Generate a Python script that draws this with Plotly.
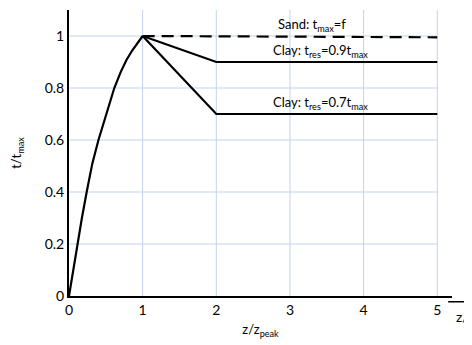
import plotly.graph_objects as go

# data
rise_x = [0, 0.05, 0.113, 0.175, 0.24, 0.317, 0.40, 0.51, 0.615, 0.70, 0.78, 0.86, 0.93, 1.0]
rise_y = [0, 0.09, 0.2, 0.3, 0.4, 0.51, 0.6, 0.705, 0.8, 0.86, 0.908, 0.945, 0.972, 1.0]
sand_x = [1, 5]
sand_y = [1.0, 0.995]
clay9_x = [1, 2, 5]
clay9_y = [1.0, 0.9, 0.9]
clay7_x = [1, 2, 5]
clay7_y = [1.0, 0.7, 0.7]
x_ticks = [0, 1, 2, 3, 4, 5]
y_ticks = [0, 0.2, 0.4, 0.6, 0.8, 1]
y_tick_labels = ["0", "0.2", "0.4", "0.6", "0.8", "1"]

FONT = "Lato, 'Open Sans', sans-serif"
GRID = "#c3d3ee"

fig = go.Figure()
line = dict(color="black", width=2.2)
fig.add_trace(go.Scatter(x=rise_x, y=rise_y, mode="lines", line=line))
fig.add_trace(go.Scatter(x=sand_x, y=sand_y, mode="lines", line=dict(color="black", width=2.2, dash="12px,7px")))
fig.add_trace(go.Scatter(x=clay9_x, y=clay9_y, mode="lines", line=line))
fig.add_trace(go.Scatter(x=clay7_x, y=clay7_y, mode="lines", line=line))

shapes = []
for yv in y_ticks[1:]:
    shapes.append(dict(type="line", xref="x", yref="y", x0=0, x1=5, y0=yv, y1=yv,
                       line=dict(color=GRID, width=1), layer="below"))
for xv in x_ticks[1:]:
    shapes.append(dict(type="line", xref="x", yref="y", x0=xv, x1=xv, y0=0, y1=1.1,
                       line=dict(color=GRID, width=1), layer="below"))
# overline of z/D label
shapes.append(dict(type="line", xref="paper", yref="paper", x0=0.99, x1=1.1, y0=-0.02, y1=-0.02,
                   line=dict(color="black", width=1.5)))

lab_font = dict(size=13, family=FONT, color="black")
annotations = [
    dict(x=3.3, y=1.0, xref="x", yref="y", text="Sand: t<sub>max</sub>=f", showarrow=False,
         yanchor="bottom", yshift=0, font=lab_font),
    dict(x=3.42, y=0.9, xref="x", yref="y", text="Clay: t<sub>res</sub>=0.9t<sub>max</sub>", showarrow=False,
         yanchor="bottom", yshift=0, font=lab_font),
    dict(x=3.42, y=0.7, xref="x", yref="y", text="Clay: t<sub>res</sub>=0.7t<sub>max</sub>", showarrow=False,
         yanchor="bottom", yshift=0, font=lab_font),
    dict(x=1.005, y=-0.035, xref="paper", yref="paper", text="z/D", showarrow=False,
         xanchor="left", yanchor="top", font=dict(size=14, family=FONT, color="black")),
]

# the page body adds an 8px offset, so the figure is 8px smaller on each axis
fig.update_layout(
    width=464, height=337,
    margin=dict(l=61, r=20, t=2, b=49),
    paper_bgcolor="white", plot_bgcolor="white",
    showlegend=False,
    font=dict(family=FONT, size=14, color="black"),
    shapes=shapes, annotations=annotations,
    xaxis=dict(range=[0, 5.2], tickvals=x_ticks, showgrid=False, zeroline=False, automargin=False,
               showline=True, linecolor="black", linewidth=2, ticks="", ticklen=0,
               title=dict(text="z/z<sub>peak</sub>", font=dict(size=13), standoff=8)),
    yaxis=dict(range=[0, 1.1], tickvals=y_ticks, ticktext=y_tick_labels, showgrid=False, automargin=False,
               zeroline=False, showline=True, linecolor="black", linewidth=2, ticks="",
               title=dict(text="t/t<sub>max</sub>", font=dict(size=13), standoff=20)),
)

fig.write_html("out.html")
